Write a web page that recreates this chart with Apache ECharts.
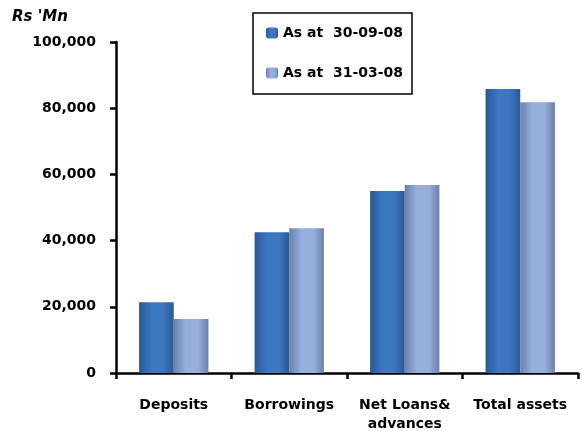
<!DOCTYPE html>
<html>
<head>
<meta charset="utf-8">
<script src="https://cdn.jsdelivr.net/npm/echarts@6/dist/echarts.min.js"></script>
<style>
  html, body { margin: 0; padding: 0; background: #fff; }
  #chart { width: 582px; height: 431px; }
</style>
</head>
<body>
<div id="chart"></div>
<script>
// Balance sheet items, Rs million
var categories = ['Deposits', 'Borrowings', 'Net Loans&\nadvances', 'Total assets'];
var seriesNames = ['As at  30-09-08', 'As at  31-03-08'];
var sept08 = [21400, 42500, 55000, 85800];
var mar08 = [16300, 43700, 56800, 81800];
var yTicks = { min: 0, max: 100000, interval: 20000 };

var FONT = 'DejaVu Sans';

function barFill(edge, mid) {
  return new echarts.graphic.LinearGradient(0, 0, 1, 0, [
    { offset: 0, color: edge },
    { offset: 0.35, color: mid },
    { offset: 0.7, color: mid },
    { offset: 1, color: edge }
  ]);
}

var chart = echarts.init(document.getElementById('chart'), null, { renderer: 'canvas' });
chart.setOption({
  animation: false,
  backgroundColor: '#ffffff',
  grid: { left: 116, right: 4, top: 42, bottom: 58, containLabel: false, outerBoundsMode: 'none' },
  graphic: [{
    type: 'text',
    left: 12,
    top: 10,
    style: { text: "Rs 'Mn", font: 'italic bold 15px ' + FONT, fill: '#000' }
  }],
  legend: {
    orient: 'vertical',
    left: 253,
    top: 13,
    padding: [13, 9, 14, 13],
    itemGap: 26,
    itemWidth: 12,
    itemHeight: 11,
    borderColor: '#000',
    borderWidth: 1.5,
    textStyle: { fontFamily: FONT, fontWeight: 'bold', fontSize: 14, color: '#000' },
    data: seriesNames
  },
  xAxis: {
    type: 'category',
    data: categories,
    axisLine: { lineStyle: { color: '#000', width: 2.5 } },
    axisTick: { show: true, length: 6, lineStyle: { color: '#000', width: 2.5 } },
    axisLabel: {
      margin: 23,
      fontFamily: FONT,
      fontWeight: 'bold',
      fontSize: 14,
      color: '#000',
      lineHeight: 19,
      interval: 0
    }
  },
  yAxis: {
    type: 'value',
    min: yTicks.min,
    max: yTicks.max,
    interval: yTicks.interval,
    splitLine: { show: false },
    axisLine: { show: true, lineStyle: { color: '#000', width: 2.5 } },
    axisTick: { show: true, length: 6, lineStyle: { color: '#000', width: 2.5 } },
    axisLabel: {
      margin: 20,
      fontFamily: FONT,
      fontWeight: 'bold',
      fontSize: 14,
      color: '#000',
      formatter: function (v) { return v.toLocaleString('en-US'); }
    }
  },
  series: [
    {
      name: seriesNames[0],
      type: 'bar',
      data: sept08,
      barGap: '0%',
      barCategoryGap: '40%',
      itemStyle: { color: barFill('#2b5797', '#3c77c0') }
    },
    {
      name: seriesNames[1],
      type: 'bar',
      data: mar08,
      itemStyle: { color: barFill('#6a80ab', '#96afdd') }
    }
  ]
});
</script>
</body>
</html>
